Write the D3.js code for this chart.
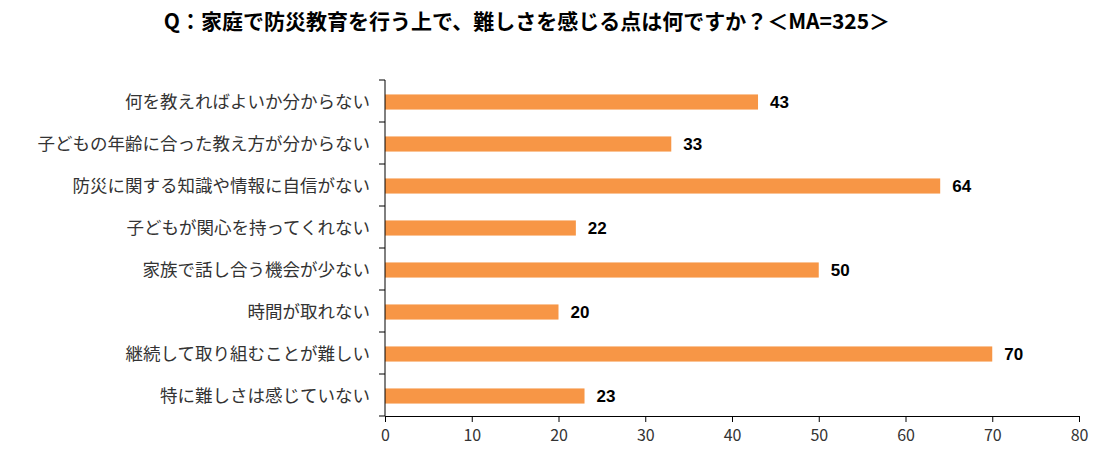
<!DOCTYPE html>
<html><head><meta charset="utf-8">
<script src="https://cdn.jsdelivr.net/npm/d3@7"></script>
<style>body{margin:0;background:#fff}</style></head>
<body><svg id="c" width="1114" height="466"></svg>
<script>
const categories=["何を教えればよいか分からない","子どもの年齢に合った教え方が分からない","防災に関する知識や情報に自信がない","子どもが関心を持ってくれない","家族で話し合う機会が少ない","時間が取れない","継続して取り組むことが難しい","特に難しさは感じていない"];
const values=[43,33,64,22,50,20,70,23];
const xTicks=[0,10,20,30,40,50,60,70,80];
const title="Q：家庭で防災教育を行う上で、難しさを感じる点は何ですか？＜MA=325＞";
const svg=d3.select("#c");
const font="'Noto Sans CJK JP',sans-serif";
const x=d3.scaleLinear().domain([0,80]).range([385,1079]);
const y=d3.scaleBand().domain(categories).range([80,416]).paddingInner(0.64).paddingOuter(0.32);
svg.append("text").attr("x",527).attr("y",29).attr("text-anchor","middle").attr("font-family",font).attr("font-weight","bold").attr("font-size",21).attr("fill","#000").text(title);
svg.selectAll("rect.b").data(values).join("rect").attr("x",x(0)).attr("y",(d,i)=>y(categories[i])+1).attr("width",d=>x(d)-x(0)).attr("height",y.bandwidth()).attr("fill","#F79646");
svg.selectAll("text.v").data(values).join("text").attr("x",d=>x(d)+12).attr("y",(d,i)=>y(categories[i])+1+y.bandwidth()/2).attr("dy","0.35em").attr("font-family","Liberation Sans,Arial,sans-serif").attr("font-weight","bold").attr("font-size",17).text(d=>d);
const xa=svg.append("g").attr("transform","translate(0,416)").call(d3.axisBottom(x).tickValues(xTicks).tickSize(6).tickSizeOuter(0));
xa.selectAll("text").attr("font-family",font).attr("font-size",16).attr("fill","#333").attr("dy","1em");
xa.selectAll("line,path").attr("stroke","#000");
const ya=svg.append("g");
ya.append("line").attr("x1",385).attr("x2",385).attr("y1",80).attr("y2",416).attr("stroke","#000");
d3.range(categories.length+1).forEach(i=>ya.append("line").attr("x1",379).attr("x2",385).attr("y1",80+i*42).attr("y2",80+i*42).attr("stroke","#000"));
svg.selectAll("text.c").data(categories).join("text").attr("x",370).attr("y",d=>y(d)+1+y.bandwidth()/2).attr("dy","0.35em").attr("text-anchor","end").attr("font-family",font).attr("font-size",17.5).attr("fill","#333").text(d=>d);
</script></body></html>
